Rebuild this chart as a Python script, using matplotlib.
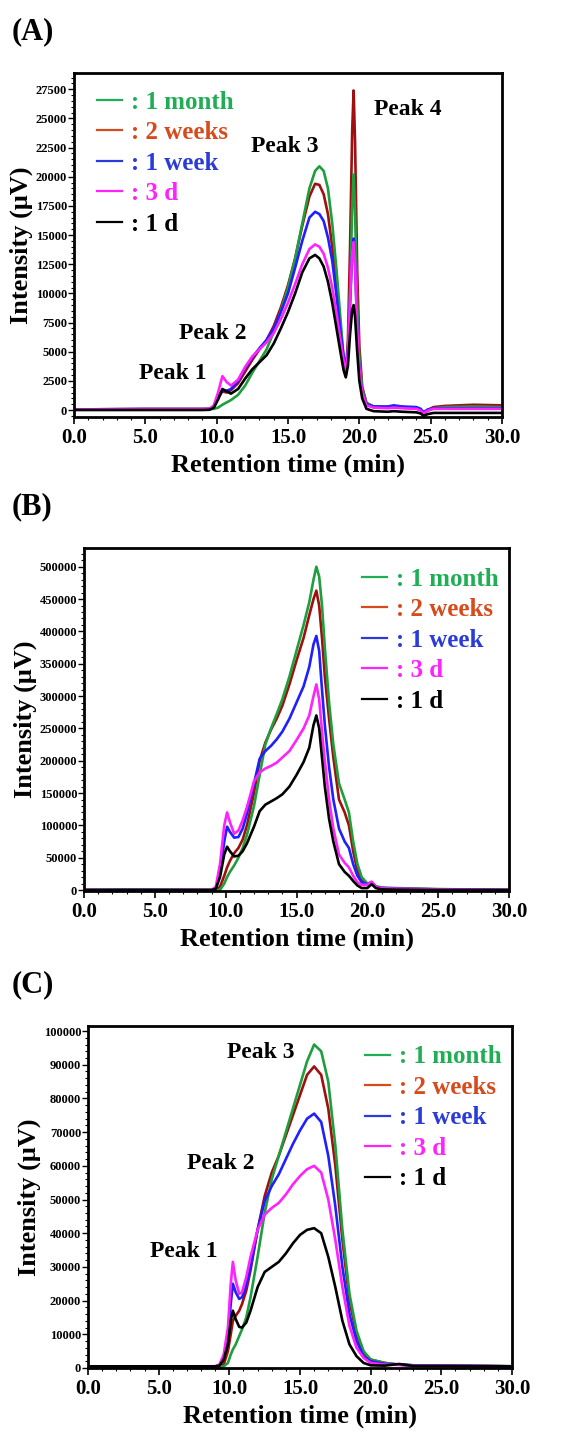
import numpy as np
import matplotlib
matplotlib.use('Agg')
import matplotlib.pyplot as plt
from matplotlib.lines import Line2D
from matplotlib.ticker import MultipleLocator, FormatStrFormatter

plt.rcParams['font.family'] = ['Liberation Serif', 'DejaVu Serif']
plt.rcParams['font.weight'] = 'bold'

# Dati (tempo in min, intensita' in uV)

series = ['1 month', '2 weeks', '1 week', '3 d', '1 d']
line_col = {'1 month': '#1e9e3c', '2 weeks': '#a00f0f', '1 week': '#1f1fff',
            '3 d': '#ff22ff', '1 d': '#000000'}
text_col = {'1 month': '#1fae55', '2 weeks': '#d64b1c', '1 week': '#2a3bd8',
            '3 d': '#ff22ff', '1 d': '#000000'}
draw_order = ['2 weeks', '1 month', '1 week', '3 d', '1 d']

# Pannello A
tA = [0, 5, 9.0, 9.5, 9.8, 10.1, 10.4, 10.7, 11.0, 11.5, 12.0, 12.5, 13.0, 13.5, 14.0,
      14.5, 15.0, 15.5, 16.0, 16.5, 16.9, 17.2, 17.5, 17.8, 18.1, 18.4, 18.7, 18.9,
      19.05, 19.2, 19.35, 19.5, 19.6, 19.7, 19.85, 20.0, 20.2, 20.5, 21.0, 22.0, 22.4,
      23.0, 24.0, 24.3, 24.5, 24.8, 25.2, 26, 28, 30]
A_1month = [50, 80, 80, 80, 100, 200, 450, 650, 850, 1300, 2100, 3200, 4200, 5200, 6700,
            8500, 10500, 13000, 16000, 19000, 20500, 20900, 20500, 19000, 16000, 12000, 7500, 4500,
            3000, 4500, 10000, 17500, 20200, 17000, 9000, 4500, 1800, 600, 300, 200, 300,
            200, 150, 0, -300, -50, 150, 250, 300, 250]
A_2weeks = [50, 80, 80, 90, 250, 1000, 1600, 1500, 1700, 2300, 3300, 4300, 5200, 6000, 7200,
            8800, 10700, 13000, 15800, 18300, 19400, 19300, 18500, 16800, 14000, 10500, 6500, 4200,
            3000, 6000, 14000, 24000, 27400, 23000, 12000, 5500, 2000, 600, 300, 250, 300,
            250, 200, 50, -250, 0, 250, 350, 450, 400]
A_1week = [50, 80, 80, 90, 250, 1100, 1700, 1650, 1800, 2500, 3600, 4500, 5300, 6000, 7000,
           8400, 10000, 12200, 14500, 16500, 17000, 16800, 16200, 14800, 12800, 9800, 6500, 4600,
           3800, 5000, 9000, 13500, 14700, 12500, 7000, 3500, 1500, 500, 300, 300, 400,
           300, 250, 100, -200, 50, 150, 150, 150, 150]
A_3d = [50, 80, 80, 100, 400, 1500, 2900, 2400, 2100, 2600, 3700, 4600, 5200, 5800, 6600,
        7800, 9200, 10800, 12500, 13800, 14200, 14000, 13400, 12200, 10500, 8300, 5800, 4200,
        3300, 5000, 9500, 13500, 14400, 12500, 7000, 3500, 1500, 400, 200, 150, 200,
        150, 100, -50, -300, -50, 100, 100, 100, 100]
A_1d = [0, 0, 0, 20, 200, 900, 1800, 1600, 1400, 1800, 2700, 3500, 4100, 4700, 5700,
        7000, 8400, 10000, 11800, 13000, 13300, 13000, 12300, 11000, 9200, 7000, 4800, 3400,
        2800, 3800, 6500, 8600, 9000, 8000, 5000, 2500, 1000, 100, -100, -150, -100,
        -150, -200, -300, -500, -350, -250, -250, -250, -250]

# Pannello B
tB = [0, 3, 9.0, 9.3, 9.6, 9.9, 10.1, 10.3, 10.6, 10.9, 11.2, 11.5, 12.0, 12.4, 12.8, 13.2,
      13.6, 14.0, 14.5, 15.0, 15.5, 15.9, 16.2, 16.4, 16.6, 16.8, 17.0, 17.3, 17.6, 18.0,
      18.4, 18.7, 19.0, 19.3, 19.6, 20.0, 20.3, 20.6, 21.0, 22.0, 25.0, 30.0]
B_1month = [0, 1000, 0, 0, 0, 10000, 20000, 28000, 38000, 50000, 65000, 85000, 130000, 178000, 225000, 250000,
            272000, 295000, 330000, 370000, 410000, 445000, 480000, 500000, 485000, 440000, 375000, 290000, 225000, 165000,
            140000, 120000, 75000, 40000, 20000, 10000, 12000, 6000, 4000, 3000, 1500, 0]
B_2weeks = [0, 0, 0, 0, 5000, 22000, 35000, 45000, 57000, 65000, 78000, 100000, 150000, 200000, 228000, 248000,
            265000, 285000, 318000, 355000, 390000, 425000, 450000, 463000, 440000, 390000, 330000, 265000, 205000, 140000,
            120000, 100000, 60000, 30000, 15000, 8000, 10000, 5000, 3000, 2000, 1000, 0]
B_1week = [0, 0, 0, 2000, 25000, 75000, 98000, 90000, 81000, 82000, 95000, 118000, 165000, 203000, 215000, 223000,
           233000, 245000, 265000, 290000, 315000, 345000, 380000, 393000, 370000, 310000, 255000, 190000, 140000, 95000,
           75000, 65000, 40000, 22000, 12000, 9000, 12000, 5000, 3000, 2000, 1000, 0]
B_3d = [0, 0, 0, 5000, 40000, 100000, 120000, 105000, 87000, 92000, 108000, 128000, 168000, 182000, 188000, 192000,
        197000, 205000, 215000, 232000, 250000, 270000, 300000, 318000, 295000, 245000, 200000, 140000, 95000, 55000,
        42000, 35000, 22000, 12000, 8000, 8000, 13000, 5000, 3000, 2000, 1000, 0]
B_1d = [0, 0, 0, 2000, 20000, 55000, 67000, 60000, 52000, 53000, 60000, 72000, 98000, 122000, 132000, 137000,
        142000, 148000, 160000, 178000, 198000, 220000, 255000, 270000, 250000, 205000, 160000, 110000, 75000, 40000,
        28000, 22000, 14000, 7000, 3000, 3000, 9000, 3000, 1000, 500, 0, 0]

# Pannello C
tC = [0, 9.0, 9.3, 9.6, 9.9, 10.1, 10.25, 10.45, 10.7, 10.9, 11.2, 11.5, 12.0, 12.5, 13.0, 13.5,
      14.0, 14.5, 15.0, 15.5, 16.0, 16.5, 17.0, 17.5, 18.0, 18.5, 19.0, 19.5, 20.0, 21.0, 22.0, 23.0, 30.0]
C_1month = [500, 500, 500, 500, 1500, 4000, 5500, 7000, 9500, 11500, 15000, 21000, 33000, 46000, 56000, 63000,
            70000, 77000, 84000, 91000, 96000, 94000, 85000, 66000, 41000, 22000, 11000, 5000, 2500, 1500, 1000, 800, 500]
C_2weeks = [500, 500, 500, 1000, 5000, 10000, 14000, 15500, 17000, 19000, 23000, 29000, 41000, 51000, 58000, 63000,
            69000, 75000, 81000, 87000, 89500, 87000, 77000, 60000, 38000, 20000, 10000, 4500, 2500, 1500, 1000, 800, 500]
C_1week = [500, 500, 800, 3000, 9000, 19000, 25000, 22500, 20500, 21000, 24500, 30000, 41000, 49500, 54000, 57500,
           62000, 66500, 70500, 74000, 75500, 73000, 63000, 48000, 30000, 16000, 8000, 3500, 2000, 1200, 1000, 800, 500]
C_3d = [500, 500, 1000, 4000, 12000, 25000, 31500, 26000, 22000, 22500, 27000, 33000, 41000, 45500, 47500, 49000,
        51500, 54500, 57000, 59000, 60000, 58000, 50000, 38000, 24000, 12500, 6000, 3000, 1500, 1000, 900, 700, 500]
C_1d = [500, 500, 700, 2500, 7000, 14000, 17000, 14500, 12200, 12000, 13500, 17000, 24000, 28500, 30000, 31500,
        34000, 37000, 39500, 41000, 41500, 40000, 33000, 24000, 14000, 7000, 3500, 1500, 800, 700, 1200, 600, 500]

panels = [
    {'tag': '(A)', 't': tA,
     'y': {'1 month': A_1month, '2 weeks': A_2weeks, '1 week': A_1week, '3 d': A_3d, '1 d': A_1d},
     'rect': [74, 73, 502, 417], 'ylim': (-600, 28900), 'ystep': 2500, 'ymax': 27500,
     'leg': (0.054, 0.949),
     'peaks': [('Peak 1', 6.9, 3170), ('Peak 2', 9.75, 6520), ('Peak 3', 14.8, 22560), ('Peak 4', 23.4, 25800)]},
    {'tag': '(B)', 't': tB,
     'y': {'1 month': B_1month, '2 weeks': B_2weeks, '1 week': B_1week, '3 d': B_3d, '1 d': B_1d},
     'rect': [84, 548, 509, 891], 'ylim': (-1500, 529000), 'ystep': 50000, 'ymax': 500000,
     'leg': (0.654, 0.943), 'peaks': []},
    {'tag': '(C)', 't': tC,
     'y': {'1 month': C_1month, '2 weeks': C_2weeks, '1 week': C_1week, '3 d': C_3d, '1 d': C_1d},
     'rect': [88, 1026, 512, 1368], 'ylim': (0, 101500), 'ystep': 10000, 'ymax': 100000,
     'leg': (0.653, 0.943),
     'peaks': [('Peak 1', 6.8, 34500), ('Peak 2', 9.4, 60600), ('Peak 3', 12.2, 93600)]},
]

W, H = 567, 1441
fig = plt.figure(figsize=(W / 100, H / 100), dpi=100)

for p in panels:
    x0, y0, x1, y1 = p['rect']
    ax = fig.add_axes([x0 / W, 1 - y1 / H, (x1 - x0) / W, (y1 - y0) / H])
    for s in draw_order:
        ax.plot(p['t'], p['y'][s], color=line_col[s], lw=1.9, solid_joinstyle='round')
    ax.set_xlim(0, 30)
    ax.set_ylim(*p['ylim'])
    ax.xaxis.set_major_locator(MultipleLocator(5))
    ax.xaxis.set_minor_locator(MultipleLocator(1))
    ax.xaxis.set_major_formatter(FormatStrFormatter('%.1f'))
    ax.set_yticks(np.arange(0, p['ymax'] + 1, p['ystep']))
    ax.yaxis.set_minor_locator(MultipleLocator(p['ystep'] / 5))
    ax.tick_params(direction='out', top=False, right=False)
    ax.tick_params(axis='x', which='major', labelsize=15, length=5, width=1.2, pad=3)
    ax.tick_params(axis='y', which='major', labelsize=9, length=4, width=1.0, pad=1)
    ax.tick_params(which='minor', length=2.5, width=0.8)
    for lab in ax.get_xticklabels() + ax.get_yticklabels():
        lab.set_fontweight('bold')
    for sp in ax.spines.values():
        sp.set_linewidth(2)
    ax.set_xlabel('Retention time (min)', fontsize=19, fontweight='bold', labelpad=4)
    ax.set_ylabel('Intensity (\u03bcV)', fontsize=19, fontweight='bold', labelpad=2)

    handles = [Line2D([], [], color=text_col[s], lw=1.6) for s in series]
    leg = ax.legend(handles, [': ' + s for s in series], loc='upper left',
                    bbox_to_anchor=p['leg'], frameon=False, borderpad=0, borderaxespad=0,
                    handlelength=1.0, handletextpad=0.35, labelspacing=0.3,
                    prop={'family': 'Liberation Serif', 'weight': 'bold', 'size': 18},
                    labelcolor=[text_col[s] for s in series])

    for txt, px, py in p['peaks']:
        ax.text(px, py, txt, fontsize=17, fontweight='bold', ha='center', va='center')

    fig.text(12 / W, 1 - (y0 - 41) / H, p['tag'], fontsize=22, fontweight='bold',
             ha='left', va='center')

fig.savefig('out.png', dpi=100)
plt.close(fig)
